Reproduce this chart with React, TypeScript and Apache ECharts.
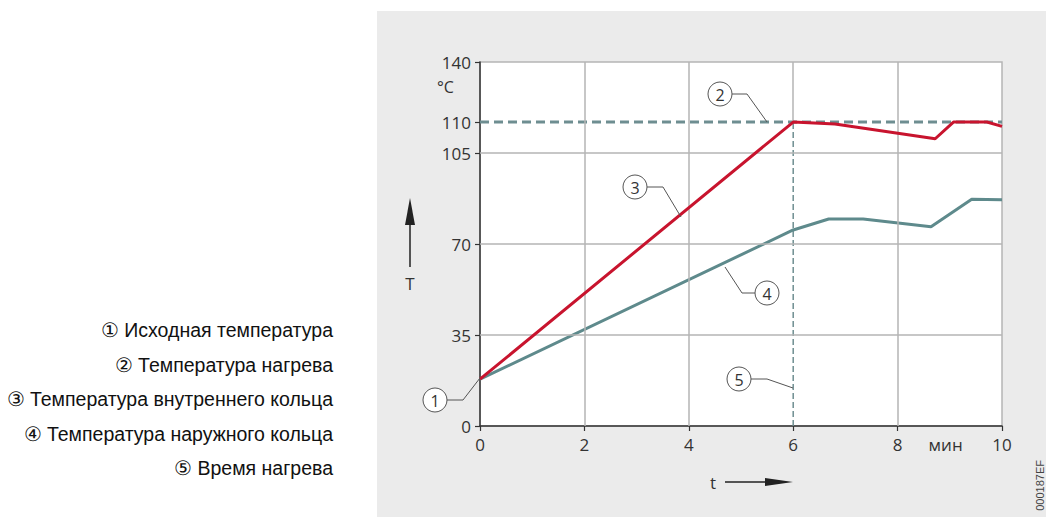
import React, { useEffect, useRef } from "react";
import * as echarts from "echarts";

// ---- data ----
const timeInner = [0, 6, 6.8, 8.72, 9.07, 9.71, 10];
const tempInner = [18, 110, 109.7, 107.3, 110, 110, 109.3];
const timeOuter = [0, 6, 6.68, 7.34, 8.64, 9.42, 10];
const tempOuter = [18, 75.4, 79.6, 79.6, 76.6, 87.2, 87];
const heatingTemp = 110;
const heatingTime = 6;
const yTickTemps = [0, 35, 70, 105, 110, 140];
const yGridTemps = [35, 70, 105];
const xTicks = [0, 2, 4, 6, 8, 10];
const xGridTimes = [2, 4, 8];
const legendItems = [
  "\u2460 Исходная температура",
  "\u2461 Температура нагрева",
  "\u2462 Температура внутреннего кольца",
  "\u2463 Температура наружного кольца",
  "\u2464 Время нагрева",
];

// broken temperature scale: knots (temperature -> axis position)
const knotT = [0, 35, 70, 105, 110, 140];
const knotV = [0, 1, 2, 3, 3.34, 4];
function toV(t: number): number {
  for (let i = 1; i < knotT.length; i++) {
    if (t <= knotT[i]) {
      const a = knotT[i - 1], b = knotT[i];
      return knotV[i - 1] + ((t - a) / (b - a)) * (knotV[i] - knotV[i - 1]);
    }
  }
  return knotV[knotV.length - 1];
}

const RED = "#c8142e";
const TEAL = "#5e8a8c";
const DASH = "#6e8e91";
const GRID = "#b5b5b5";
const AXIS = "#333333";
const NUM_FONT = "'Open Sans', sans-serif";
const TXT_FONT = "'Liberation Sans', Arial, sans-serif";

function annotation(cx: number, cy: number, label: string, pts: number[][]) {
  return [
    {
      type: "polyline",
      shape: { points: pts },
      style: { stroke: "#555", lineWidth: 1, fill: null },
      z: 50,
    },
    {
      type: "circle",
      shape: { cx, cy, r: 12 },
      style: { fill: "#ffffff", stroke: "#555", lineWidth: 1 },
      z: 51,
    },
    {
      type: "text",
      x: cx,
      y: cy + 1,
      style: {
        text: label,
        fill: "#333",
        font: `16px ${NUM_FONT}`,
        align: "center",
        verticalAlign: "middle",
      },
      z: 52,
    },
  ];
}

export default function App() {
  const ref = useRef<HTMLDivElement>(null);
  useEffect(() => {
    if (!ref.current) return;
    const chart = echarts.init(ref.current, null, { renderer: "svg" });
    const vTicks = yTickTemps.map(toV);
    const legendGraphics = legendItems.map((t, i) => ({
      type: "text",
      x: 333,
      y: 330 + i * 34.5,
      style: {
        text: t,
        fill: "#111",
        font: `19.5px ${TXT_FONT}`,
        align: "right",
        verticalAlign: "middle",
      },
    }));
    chart.setOption({
      animation: false,
      grid: {
        left: 480,
        top: 62,
        width: 522,
        height: 364,
        show: true,
        backgroundColor: "#ffffff",
        borderColor: GRID,
        borderWidth: 1.5,
      },
      xAxis: {
        type: "value",
        min: 0,
        max: 10,
        interval: 2,
        axisLine: { show: true, lineStyle: { color: AXIS, width: 1.5 } },
        axisTick: {
          show: true,
          inside: false,
          length: 5,
          customValues: xTicks,
          lineStyle: { color: AXIS, width: 1.2 },
        },
        axisLabel: {
          customValues: [...xTicks, 8.92],
          formatter: (v: number) => (Math.abs(v - 8.92) < 0.01 ? "мин" : String(v)),
          color: "#333",
          fontFamily: NUM_FONT,
          fontSize: 17,
          margin: 10,
        },
        splitLine: { show: false },
      },
      yAxis: {
        type: "value",
        min: 0,
        max: 4,
        axisLine: { show: true, lineStyle: { color: AXIS, width: 1.5 } },
        axisTick: {
          show: true,
          inside: false,
          length: 5,
          customValues: vTicks,
          lineStyle: { color: AXIS, width: 1.2 },
        },
        axisLabel: {
          customValues: vTicks,
          formatter: (v: number) => {
            let best = 0;
            vTicks.forEach((tv, i) => {
              if (Math.abs(tv - v) < Math.abs(vTicks[best] - v)) best = i;
            });
            return String(yTickTemps[best]);
          },
          color: "#333",
          fontFamily: NUM_FONT,
          fontSize: 17,
          margin: 9,
        },
        splitLine: { show: false },
      },
      series: [
        {
          type: "line",
          data: [],
          silent: true,
          z: 1,
          markLine: {
            silent: true,
            symbol: "none",
            label: { show: false },
            lineStyle: { color: GRID, width: 1.5, type: "solid" },
            data: [
              ...yGridTemps.map((t) => ({ yAxis: toV(t) })),
              ...xGridTimes.map((x) => ({ xAxis: x })),
              [
                { coord: [heatingTime, toV(heatingTemp)] },
                { coord: [heatingTime, toV(140)] },
              ],
            ],
          },
        },
        {
          type: "line",
          data: [
            [heatingTime, 0],
            [heatingTime, toV(heatingTemp)],
          ],
          symbol: "none",
          z: 2,
          lineStyle: { color: DASH, width: 1.5, type: [6, 3] },
        },
        {
          type: "line",
          data: [
            [0, toV(heatingTemp)],
            [10, toV(heatingTemp)],
          ],
          symbol: "none",
          z: 3,
          lineStyle: { color: DASH, width: 3, type: [9, 5] },
        },
        {
          type: "line",
          data: timeOuter.map((x, i) => [x, toV(tempOuter[i])]),
          symbol: "none",
          z: 4,
          lineStyle: { color: TEAL, width: 3 },
        },
        {
          type: "line",
          data: timeInner.map((x, i) => [x, toV(tempInner[i])]),
          symbol: "none",
          z: 5,
          lineStyle: { color: RED, width: 3 },
        },
      ],
      graphic: [
        ...legendGraphics,
        {
          type: "text",
          x: 437,
          y: 87,
          style: { text: "°C", fill: "#333", font: `16px ${NUM_FONT}`, verticalAlign: "middle" },
        },
        // T arrow
        {
          type: "line",
          shape: { x1: 410, y1: 267, x2: 410, y2: 220 },
          style: { stroke: "#222", lineWidth: 1.5 },
        },
        {
          type: "polygon",
          shape: { points: [[410, 198], [405, 225], [415, 225]] },
          style: { fill: "#222" },
        },
        {
          type: "text",
          x: 410,
          y: 283,
          style: { text: "T", fill: "#333", font: `17px ${NUM_FONT}`, align: "center", verticalAlign: "middle" },
        },
        // t arrow
        {
          type: "text",
          x: 713,
          y: 482,
          style: { text: "t", fill: "#333", font: `17px ${NUM_FONT}`, align: "center", verticalAlign: "middle" },
        },
        {
          type: "line",
          shape: { x1: 725, y1: 482, x2: 770, y2: 482 },
          style: { stroke: "#222", lineWidth: 1.5 },
        },
        {
          type: "polygon",
          shape: { points: [[793, 482], [765, 478], [765, 486]] },
          style: { fill: "#222" },
        },
        // rotated code
        {
          type: "text",
          x: 1040,
          y: 460,
          rotation: Math.PI / 2,
          style: { text: "000187EF", fill: "#444", font: `11px ${TXT_FONT}`, align: "right", verticalAlign: "middle" },
        },
        ...annotation(435, 400, "1", [[447, 400], [463, 400], [480, 378]]),
        ...annotation(720, 94, "2", [[732, 94], [747, 94], [767, 122]]),
        ...annotation(635, 187, "3", [[647, 187], [663, 187], [681, 217]]),
        ...annotation(767, 293, "4", [[755, 293], [742, 293], [725, 267]]),
        ...annotation(739, 379, "5", [[751, 379], [767, 379], [793, 388]]),
      ],
    });
    return () => chart.dispose();
  }, []);
  return (
    <div style={{ position: "fixed", left: 0, top: 0, width: 1046, height: 517, background: "#ffffff" }}>
      <div style={{ position: "absolute", left: 377, top: 11, width: 669, height: 506, background: "#ebebeb" }} />
      <div ref={ref} style={{ position: "absolute", left: 0, top: 0, width: 1046, height: 517 }} />
    </div>
  );
}
